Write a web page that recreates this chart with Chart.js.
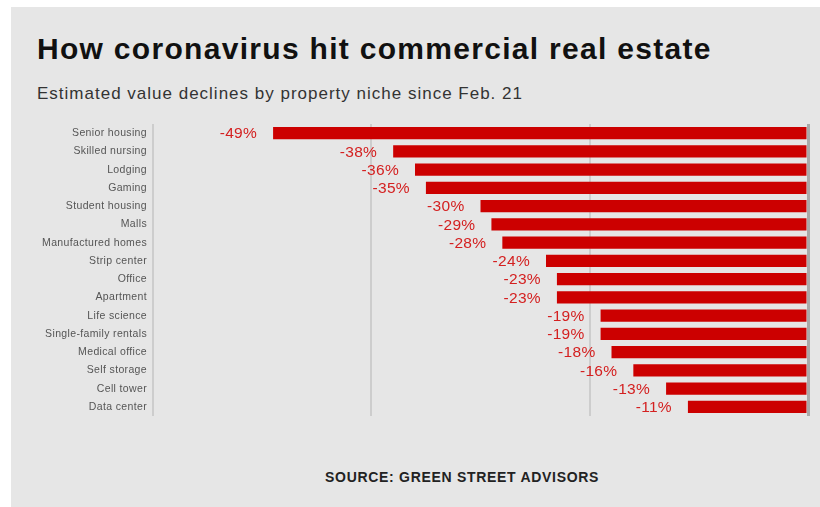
<!DOCTYPE html>
<html>
<head>
<meta charset="utf-8">
<script src="https://cdn.jsdelivr.net/npm/chart.js@4/dist/chart.umd.min.js"></script>
<style>
  html, body { margin: 0; padding: 0; background: #ffffff; }
  body { width: 820px; height: 507px; position: relative; overflow: hidden; font-family: "Liberation Sans", Arial, sans-serif; }
  #panel { position: absolute; left: 11px; top: 7px; right: 0; bottom: 0; background: #e6e6e6; }
  #title { position: absolute; left: 37px; top: 32px; font-size: 30px; font-weight: bold; color: #111; white-space: nowrap; letter-spacing: 1.3px; }
  #subtitle { position: absolute; left: 37px; top: 84px; font-size: 17px; color: #333; white-space: nowrap; letter-spacing: 1px; }
  #source { position: absolute; left: 325px; top: 469px; font-size: 14px; font-weight: bold; color: #222; white-space: nowrap; letter-spacing: 0.7px; }
  #wrap { position: absolute; left: 0; top: 0; width: 820px; height: 507px; }
</style>
</head>
<body>
<div id="panel"></div>
<div id="title">How coronavirus hit commercial real estate</div>
<div id="subtitle">Estimated value declines by property niche since Feb. 21</div>
<div id="source">SOURCE: GREEN STREET ADVISORS</div>
<div id="wrap"><canvas id="c" width="820" height="507"></canvas></div>
<script>
const categories = ["Senior housing", "Skilled nursing", "Lodging", "Gaming", "Student housing", "Malls",
  "Manufactured homes", "Strip center", "Office", "Apartment", "Life science", "Single-family rentals",
  "Medical office", "Self storage", "Cell tower", "Data center"];
const declines = [-49, -38, -36, -35, -30, -29, -28, -24, -23, -23, -19, -19, -18, -16, -13, -11];
const xMin = -60, xMax = 0, xStep = 20;

const spacing = {
  id: 'spacing',
  beforeDraw(chart) { chart.ctx.letterSpacing = '0.35px'; },
  afterDraw(chart) { chart.ctx.letterSpacing = '0px'; }
};

const valueLabels = {
  id: 'valueLabels',
  afterDatasetsDraw(chart) {
    const ctx = chart.ctx;
    const meta = chart.getDatasetMeta(0);
    ctx.save();
    ctx.letterSpacing = '0.3px';
    ctx.font = '15.5px "Liberation Sans", Arial, sans-serif';
    ctx.fillStyle = '#d42020';
    ctx.textAlign = 'right';
    ctx.textBaseline = 'middle';
    meta.data.forEach((el, i) => {
      ctx.fillText(declines[i] + '%', el.x - 16, el.y + 1);
    });
    ctx.restore();
  }
};

new Chart(document.getElementById('c'), {
  type: 'bar',
  data: {
    labels: categories,
    datasets: [{
      data: declines,
      backgroundColor: '#cc0000',
      borderWidth: 0,
      barPercentage: 0.68,
      categoryPercentage: 1.0
    }]
  },
  options: {
    indexAxis: 'y',
    responsive: false,
    animation: false,
    layout: { padding: { left: 0, right: 12, top: 124, bottom: 91 } },
    plugins: { legend: { display: false }, tooltip: { enabled: false }, title: { display: false } },
    scales: {
      x: {
        min: xMin, max: xMax,
        ticks: { display: false, stepSize: xStep },
        border: { display: false },
        grid: {
          drawTicks: false,
          color: (c) => c.tick && c.tick.value === 0 ? '#a9a9a9' : '#cdcdcd',
          lineWidth: (c) => c.tick && c.tick.value === 0 ? 3 : 2
        },
        afterFit: (s) => { s.height = 0; }
      },
      y: {
        grid: { display: false, drawTicks: false },
        border: { display: false },
        ticks: {
          color: '#555',
          padding: 6,
          font: { size: 10.5, family: '"Liberation Sans", Arial, sans-serif' }
        },
        afterFit: (s) => { s.width = 153; }
      }
    }
  },
  plugins: [spacing, valueLabels]
});
</script>
</body>
</html>
